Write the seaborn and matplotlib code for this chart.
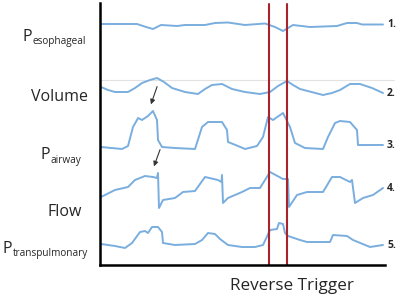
import numpy as np
import pandas as pd
import matplotlib
matplotlib.use("Agg")
import matplotlib.pyplot as plt
import seaborn as sns

# traces (x = time position, y = level, screen units, y grows down)
t_eso = [101, 137, 146, 153, 161, 177, 185, 205, 215, 228, 245, 265, 275, 283, 293, 310, 337, 347, 357, 362, 383]
y_eso = [24, 24, 27, 29, 25, 26, 25, 25, 23, 22.5, 25, 23.5, 27, 31, 25, 27, 26, 23, 23, 24.5, 24.5]

t_vol = [101, 108, 115, 128, 135, 142, 150, 157, 164, 172, 185, 198, 205, 212, 222, 232, 245, 260, 270, 278, 287,
         293, 300, 323, 332, 340, 350, 360, 372, 383]
y_vol = [87, 90, 92, 92, 88, 83, 80, 78, 82, 88, 92, 94, 89, 85, 84, 89, 92, 94, 92, 86, 81, 85, 89, 95, 93, 90,
         84, 84, 88, 93]

t_paw = [101, 122, 128, 133, 137, 138, 142, 148, 153, 157, 158, 162, 175, 195, 202, 208, 222, 227, 228, 238, 245, 257,
         263, 268, 273, 283, 290, 295, 305, 323, 328, 335, 340, 350, 357, 358, 383]
y_paw = [147, 149, 146, 127, 120, 118, 120, 116, 111, 120, 140, 147, 148, 149, 127, 122, 122, 130, 142, 146, 149, 146,
         137, 117, 120, 113, 127, 143, 148, 149, 137, 123, 121, 122, 130, 145, 145]

t_flow = [101, 115, 128, 135, 145, 153, 157, 158, 159, 163, 175, 183, 195, 205, 218, 221.5, 222, 223, 228, 242, 250,
          260, 270, 283, 287.5, 288, 289, 297, 307, 323, 332, 340, 350, 352, 355, 363, 373, 383]
y_flow = [197, 190, 187, 180, 176, 177, 178, 173, 208, 200, 198, 192, 191, 177, 180, 182, 175, 203, 198, 192, 188,
          188, 172, 179, 179, 179, 207, 195, 192, 192, 177, 177, 182, 180, 203, 198, 195, 188]

t_ptp = [101, 115, 125, 132, 140, 145, 148, 152, 158, 162, 163, 175, 195, 202, 208, 215, 220, 228, 242, 255, 263,
         270, 277, 279, 283, 285, 288, 300, 307, 330, 333, 347, 353, 370, 383]
y_ptp = [244, 246, 248, 243, 232, 231, 233, 227, 227, 232, 243, 245, 244, 240, 233, 234, 239, 245, 247, 247, 245,
         230, 229, 223, 224, 233, 236, 240, 242, 242, 235, 236, 240, 247, 245]

labels = ["esophageal", "Volume", "airway", "Flow", "transpulmonary"]
numbers = ["1.", "2.", "3.", "4.", "5."]
trigger_x = [269, 287]

traces = [(t_eso, y_eso), (t_vol, y_vol), (t_paw, y_paw), (t_flow, y_flow), (t_ptp, y_ptp)]
frames = []
for i, (t, y) in enumerate(traces):
    frames.append(pd.DataFrame({"t": t, "y": y, "trace": numbers[i]}))
df = pd.concat(frames, ignore_index=True)

sns.set_style("white")
plt.rcParams["font.family"] = ["Open Sans", "DejaVu Sans"]

fig = plt.figure(figsize=(4, 2.98), dpi=100)
ax = fig.add_axes([100 / 400, 33 / 298, 285 / 400, 262 / 298])
ax.set_xlim(100, 385)
ax.set_ylim(265, 3)

ax.axhline(80, color="#e2e2e2", lw=0.8, xmax=1.03, clip_on=False)
for tr in numbers:
    sub = df[df["trace"] == tr]
    sns.lineplot(x="t", y="y", data=sub, ax=ax, sort=False, estimator=None,
                 color="#7aaede", lw=1.4, solid_joinstyle="round", solid_capstyle="round")
for xv in trigger_x:
    ax.axvline(xv, ymax=0.995, color="#a8232b", lw=1.5)

ax.annotate("", xy=(150, 107), xytext=(158, 84),
            arrowprops=dict(arrowstyle="-|>", color="#333333", lw=0.8, mutation_scale=7))
ax.annotate("", xy=(153, 169), xytext=(161, 147),
            arrowprops=dict(arrowstyle="-|>", color="#333333", lw=0.8, mutation_scale=7))

# left labels
ax.text(22, 37, "P", fontsize=11.5, ha="left", va="center", clip_on=False)
ax.text(32.5, 41, labels[0], fontsize=7.2, ha="left", va="center", clip_on=False)
ax.text(88, 97, labels[1], fontsize=11.5, ha="right", va="center", clip_on=False)
ax.text(40, 155, "P", fontsize=11.5, ha="left", va="center", clip_on=False)
ax.text(50.5, 160, labels[2], fontsize=7.2, ha="left", va="center", clip_on=False)
ax.text(82, 212, labels[3], fontsize=11.5, ha="right", va="center", clip_on=False)
ax.text(2, 249, "P", fontsize=11.5, ha="left", va="center", clip_on=False)
ax.text(12.5, 253, labels[4], fontsize=7.2, ha="left", va="center", clip_on=False)

nums_y = [24, 93, 145, 188, 245]
for n, yv in zip(numbers, nums_y):
    ax.text(387, yv, n, fontsize=7.5, fontweight="bold", ha="left", va="center", clip_on=False)

ax.set_xticks([])
ax.set_yticks([])
ax.set_xlabel("")
ax.set_ylabel("")
ax.text(292, 286, "Reverse Trigger", fontsize=12.3, ha="center", va="center", clip_on=False)

sns.despine(ax=ax)
for s in ["left", "bottom"]:
    ax.spines[s].set_color("black")
    ax.spines[s].set_linewidth(1.8)

fig.savefig("out.png", dpi=100)
